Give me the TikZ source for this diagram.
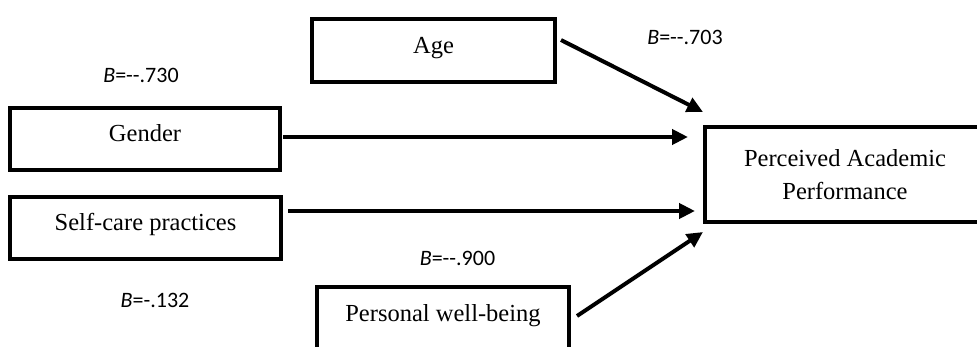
\documentclass[tikz,border=0pt]{standalone}
\usepackage{fontspec}
\setmainfont{Liberation Serif}
\newfontfamily\lblfont{Carlito}
\usetikzlibrary{arrows.meta,calc}
\begin{document}
\begin{tikzpicture}[x=1pt,y=-1pt,
  varbox/.style={draw, line width=4pt, inner sep=0pt, outer sep=0pt,
    font=\fontsize{24.5}{33}\selectfont, text height=17pt, text depth=11pt},
  coef/.style={font=\lblfont\fontsize{22}{26}\selectfont, inner sep=0pt},
  arr/.style={line width=4pt, -{Triangle[length=16pt,width=15pt]}}]
\useasboundingbox (0,0) rectangle (977,347);
\clip (0,0) rectangle (977,347);
% boxes
\node[varbox, minimum width=243pt, minimum height=63pt] (age) at (433.5,50.5) {Age};
\node[varbox, minimum width=270pt, minimum height=62pt] (gender) at (145,139) {Gender};
\node[varbox, minimum width=271pt, minimum height=62pt] (self) at (145.5,228) {Self-care practices};
\node[varbox, minimum width=252pt, minimum height=62pt] (well) at (443,318) {Personal well-being};
\node[draw, line width=4pt, inner sep=0pt, outer sep=0pt, minimum width=280pt, minimum height=95pt,
  align=center, font=\fontsize{24.5}{33}\selectfont] (pap) at (845,174.5) {Perceived Academic\\Performance};
% coefficients
\node[coef] (c1) at (141,75) {\textit{B}=-{}-.730};
\node[coef] (c2) at (685,37) {\textit{B}=-{}-.703};
\node[coef] (c3) at (457.5,258) {\textit{B}=-{}-.900};
\node[coef] (c4) at (155,300) {\textit{B}=-.132};
% arrows
\draw[arr] ($(age.east)+(6,-10.5)$) -- ($(pap.north west)+(-2,-15)$);
\draw[arr] ($(gender.east)+(3,-2)$) -- ($(gender.east -| pap.west)+(-17,-2)$);
\draw[arr] ($(self.east)+(7,-17)$) -- ($(self.east -| pap.west)+(-10,-17)$);
\draw[arr] ($(well.east)+(8,-2)$) -- ($(pap.south west)+(-2,10)$);
\end{tikzpicture}
\end{document}
